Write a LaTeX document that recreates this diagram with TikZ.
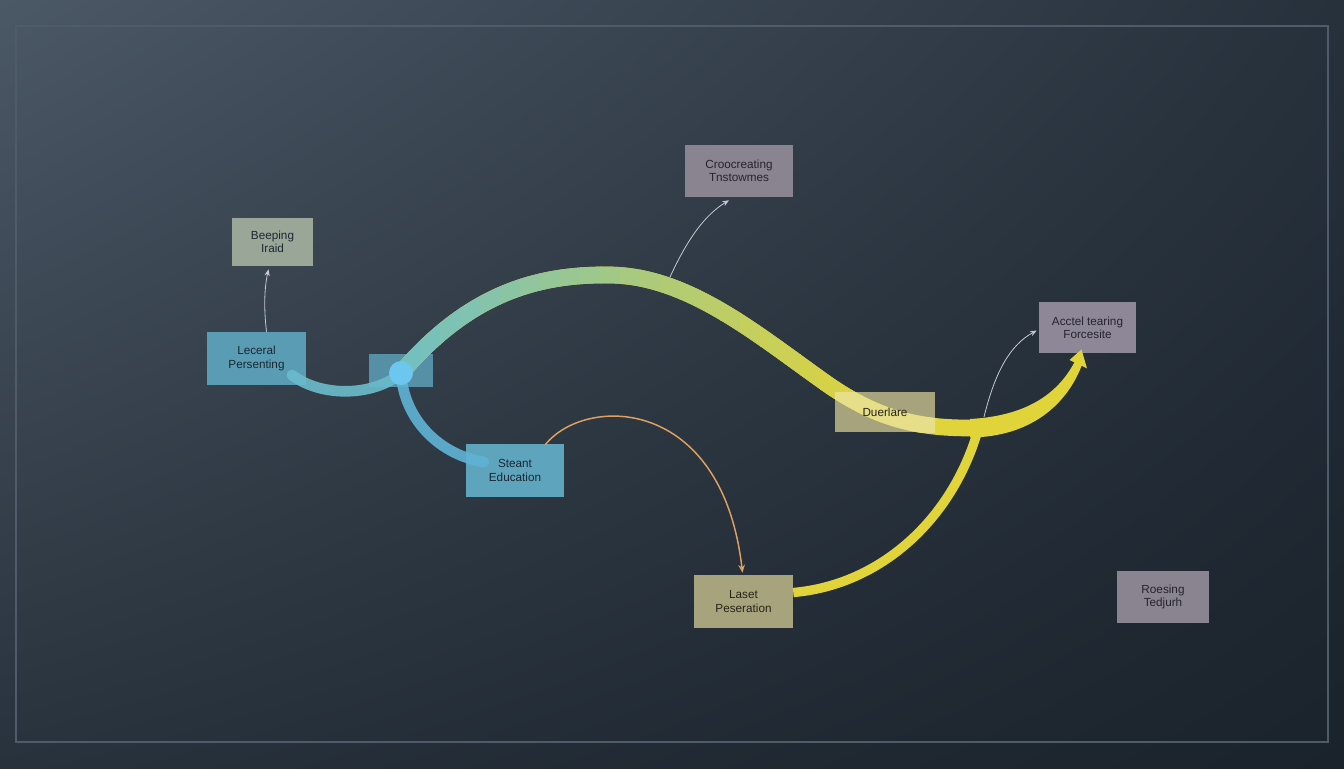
\documentclass[tikz,border=0pt]{standalone}
\usepackage{fontspec}
\setmainfont{Liberation Sans}
\usetikzlibrary{arrows.meta,calc,shadings}
\definecolor{bgUL}{HTML}{4B5866}
\definecolor{bgUR}{HTML}{27313C}
\definecolor{bgLL}{HTML}{28323C}
\definecolor{bgLR}{HTML}{1A222B}
\definecolor{frameC}{HTML}{4E5B68}
\definecolor{sageC}{HTML}{9AA697}
\definecolor{blueC}{HTML}{5A9CB4}
\definecolor{juncC}{HTML}{5590A6}
\definecolor{mauveC}{HTML}{8A8390}
\definecolor{mauveD}{HTML}{8E8797}
\definecolor{oliveC}{HTML}{A7A47D}
\definecolor{blueG}{HTML}{5EA4BD}
\definecolor{txtDark}{HTML}{1A2832}
\definecolor{txtMauve}{HTML}{24242E}
\definecolor{txtOlive}{HTML}{24241A}
\definecolor{bandT}{HTML}{6FBFC6}
\definecolor{bandY}{HTML}{E0D43A}
\definecolor{bandL}{HTML}{E6DE88}
\definecolor{tealBand}{HTML}{6BBCCC}
\definecolor{blueBand}{HTML}{5FB3D6}
\definecolor{dotC}{HTML}{6CC6EE}
\definecolor{thinC}{HTML}{C5CAD2}
\definecolor{orangeC}{HTML}{E0A060}
\begin{document}
\begin{tikzpicture}[x=0.75pt,y=-0.75pt,
  box/.style={rectangle, inner sep=0pt, align=center,
    font=\fontsize{8.8}{10}\selectfont},
  thinarr/.style={draw=thinC, line width=0.6pt, -{Stealth[length=5pt,width=4pt]}},
  orangearr/.style={draw=orangeC, line width=1.1pt, -{Stealth[length=6pt,width=5pt]}},
  mainband/.style={line width=12.5pt, line cap=butt},
  sideband/.style={line width=8pt, line cap=round}]
% background
\shade[upper left=bgUL, upper right=bgUR, lower left=bgLL, lower right=bgLR]
  (0,0) rectangle (1344,768);
\useasboundingbox (0,0) rectangle (1344,768);
\draw[frameC, line width=0.9pt] (16,26) rectangle (1328,742);
% boxes
\node[box, fill=sageC, text=txtDark, minimum width=60.75pt, minimum height=36pt] (A) at (272.5,242) {Beeping\\Iraid};
\node[box, fill=blueC, text=txtDark, minimum width=74.25pt, minimum height=39.75pt] (B) at (256.5,358.5) {Leceral\\Persenting};
\node[box, fill=juncC, minimum width=48pt, minimum height=24.75pt] (C) at (401,370.5) {};
\node[box, fill=mauveC, text=txtMauve, minimum width=81pt, minimum height=39pt] (D) at (739,171) {Croocreating\\Tnstowmes};
\node[box, fill=mauveD, text=txtMauve, minimum width=72.75pt, minimum height=38.25pt] (E) at (1087.5,327.5) {Acctel tearing\\Forcesite};
\node[box, fill=blueG, text=txtDark, minimum width=73.5pt, minimum height=39.75pt] (G) at (515,470.5) {Steant\\Education};
\node[box, fill=oliveC, text=txtOlive, minimum width=74.25pt, minimum height=39.75pt] (H) at (743.5,601.5) {Laset\\Peseration};
\node[box, fill=mauveC, text=txtMauve, minimum width=69pt, minimum height=39pt] (I) at (1163,597) {Roesing\\Tedjurh};
\fill[oliveC] (835,392) rectangle (935,432);
% junction point
\coordinate (J) at (401,373);
\def\mainpath{(J) .. controls (470,292) and (540,274) .. (610,275) .. controls (690,276) and (760,337) .. (830,386) .. controls (880,420) and (920,428) .. (970,428)}
% side bands
\draw[sideband, draw=tealBand, opacity=0.9] (292,375) .. controls (322,398) and (375,396) .. (J);
\draw[sideband, draw=blueBand, opacity=0.9] (J) .. controls (404,420) and (440,455) .. (484,462);
\draw[line width=7pt, line cap=butt, draw=bandY] ($(H.east)+(0,-9)$) .. controls (880,585) and (952,520) .. (978,430);
% main band, colour running from teal to yellow
\draw[mainband, draw=bandY] \mainpath;
\foreach \k in {0,...,24}{
  \pgfmathsetmacro\xa{380+20*\k}
  \pgfmathsetmacro\xb{\xa+21}
  \pgfmathtruncatemacro\pc{min(100,100*\k/24)}
  \begin{scope}
    \clip (\xa,200) rectangle (\xb,470);
    \draw[mainband, draw=bandY!\pc!bandT] \mainpath;
  \end{scope}
}
\begin{scope}
  \clip (835,392) rectangle (935,432);
  \draw[mainband, draw=bandL] \mainpath;
\end{scope}
% tapering end with arrow head
\fill[bandY] (970,419) .. controls (1025,416) and (1057,395) .. (1074.4,362.3)
  -- (1069.5,360) -- (1081.5,349.5) -- (1087,368.5) -- (1081.6,365.7)
  .. controls (1067,404) and (1031,437) .. (970,437.5) -- cycle;
\node[box, text=txtOlive, minimum width=75pt, minimum height=30pt] (F) at (885,412) {Duerlare};
% junction dot
\node[circle, fill=dotC, minimum size=18pt, inner sep=0pt] (Jdot) at (J) {};
% thin connectors
\draw[thinarr] ($(B.north)+(10,0)$) .. controls (264,310) and (264,290) .. ($(A.south)+(-4,3)$);
\coordinate (d0) at (670,277);
\draw[thinarr] (d0) .. controls (688,238) and (705,215) .. ($(D.south)+(-10,3)$);
\coordinate (e0) at (984,417);
\draw[thinarr] (e0) .. controls (995,372) and (1010,345) .. ($(E.west)+(-2,3)$);
\draw[orangearr] ($(G.north east)+(-19,1)$) .. controls (585,395) and (722,395) .. ($(H.north)+(-1,-2)$);
\end{tikzpicture}
\end{document}
